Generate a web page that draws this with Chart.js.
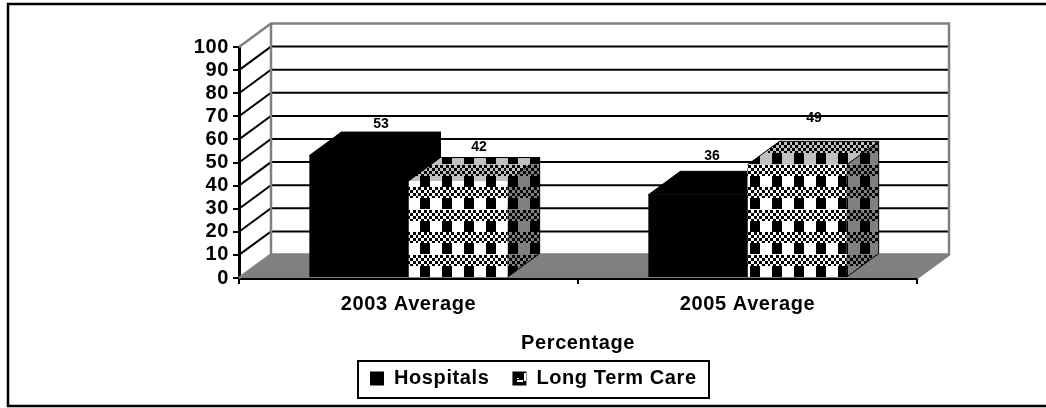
<!DOCTYPE html>
<html><head><meta charset="utf-8">
<style>html,body{margin:0;padding:0;background:#fff}canvas{display:block}</style>
<script src="https://cdn.jsdelivr.net/npm/chart.js@4"></script>
</head><body>
<canvas id="c" width="1046" height="408" style="width:1046px;height:408px"></canvas>
<script>
const categories = ['2003 Average', '2005 Average'];
const hospitals = [53, 36];
const longTermCare = [42, 49];
const yTicks = [0,10,20,30,40,50,60,70,80,90,100];
const axisTitle = 'Percentage';

const DX = 32, DY = 23.5;
const GREY = '#808080';
const FONT = 'Liberation Sans';

function makePattern(light){
  const w = 22, h = 45;
  const t = document.createElement('canvas'); t.width = w; t.height = h;
  const g = t.getContext('2d');
  g.fillStyle = light; g.fillRect(0,0,w,h);
  g.fillStyle = '#000';
  const bands = [[7,18,29],[30,41,52]];
  for (const [a,b,c] of bands){
    for (let y=a;y<b;y++) for (let x=0;x<w;x++){
      if ((Math.floor(x*8/22)+Math.floor((y-a)/3))%2===0) g.fillRect(x,y%h,1,1);
    }
    for (let y=b;y<c;y++) for (let x=0;x<w;x++){
      if (x>=2 && x<12) g.fillRect(x,y%h,1,1);
    }
  }
  const ctx = document.createElement('canvas').getContext('2d');
  return ctx.createPattern(t,'repeat');
}
const patFront = makePattern('#ffffff');
const patTop = makePattern('#c0c0c0');
const patSide = makePattern('#808080');

function makeLegendPattern(){
  const t = document.createElement('canvas'); t.width = 14; t.height = 14;
  const g = t.getContext('2d');
  g.fillStyle='#000'; g.fillRect(0,0,14,14);
  g.fillStyle='#fff';
  g.fillRect(11,3,2,8); g.fillRect(4,10,6,2); g.fillRect(4,8,2,1);
  const p = document.createElement('canvas').getContext('2d').createPattern(t,'repeat');
  p.setTransform(new DOMMatrix().translate(513,370));
  return p;
}
const patLegend = makeLegendPattern();

function poly(ctx, pts, fill, stroke, lw){
  ctx.beginPath();
  pts.forEach((p,i)=> i? ctx.lineTo(p[0],p[1]) : ctx.moveTo(p[0],p[1]));
  ctx.closePath();
  if (fill){ctx.fillStyle=fill;ctx.fill();}
  if (stroke){ctx.strokeStyle=stroke;ctx.lineWidth=lw||1;ctx.stroke();}
}
function box3d(ctx, bar, top, side, solid){
  const l = bar.x-bar.width/2, r = bar.x+bar.width/2, y = bar.y, b = bar.base;
  poly(ctx, [[r,b],[r+DX,b-DY],[r+DX,y-DY],[r,y]], side, solid?'#000':null);
  poly(ctx, [[l,y],[l+DX,y-DY],[r+DX,y-DY],[r,y]], top, solid?'#000':null);
  if (solid) return;
  ctx.strokeStyle='#000';ctx.lineWidth=1;
  ctx.beginPath();ctx.moveTo(l,y);ctx.lineTo(l+DX,y-DY);ctx.lineTo(r+DX,y-DY);ctx.lineTo(r+DX,b-DY);ctx.lineTo(r,b);ctx.moveTo(r+DX,y-DY);ctx.lineTo(r,y);ctx.stroke();
}
const labelNudge = [[[22,-31],[21,-34]],[[14,-39],[17,-47]]];

const scene = {
  id:'scene',
  beforeDraw(chart){
    const ctx = chart.ctx, lg = chart.legend;
    ctx.letterSpacing = '0.6px';
    lg.left = 370-lg.options.labels.padding; lg.right = lg.left+lg.width;
    const h = lg.bottom-lg.top; lg.top = 372-h/2; lg.bottom = lg.top+h;
    ctx.save();
    ctx.strokeStyle='#000';ctx.lineWidth=2.5;
    ctx.beginPath();ctx.moveTo(1046,4);ctx.lineTo(8,4);ctx.lineTo(8,406);ctx.lineTo(1046,406);ctx.stroke();
    ctx.lineWidth=2;
    ctx.strokeRect(358,361,351,37);
    ctx.restore();
  },
  beforeDatasetsDraw(chart){
    const ctx = chart.ctx, {left,right} = chart.chartArea, y = chart.scales.y;
    const y0 = y.getPixelForValue(0), yT = y.getPixelForValue(100);
    ctx.save();
    poly(ctx,[[left,y0],[left+DX,y0-DY],[right+DX,y0-DY],[right,y0]],GREY);
    ctx.strokeStyle='#000';ctx.lineWidth=1;
    ctx.beginPath();ctx.moveTo(right,y0);ctx.lineTo(right+DX,y0-DY);ctx.stroke();
    ctx.strokeStyle='#000';ctx.lineWidth=2;
    yTicks.forEach(v=>{
      if (v===0||v===100) return;
      const p = y.getPixelForValue(v);
      ctx.beginPath();ctx.moveTo(left,p);ctx.lineTo(left+DX,p-DY);ctx.lineTo(right+DX,p-DY);ctx.stroke();
    });
    ctx.strokeStyle=GREY;ctx.lineWidth=2.5;
    ctx.beginPath();ctx.moveTo(left,yT);ctx.lineTo(left+DX,yT-DY);ctx.lineTo(right+DX,yT-DY);ctx.lineTo(right+DX,y0-DY);ctx.lineTo(right,y0);ctx.stroke();
    ctx.beginPath();ctx.moveTo(left+DX,yT-DY);ctx.lineTo(left+DX,y0-DY);ctx.lineTo(left,y0);ctx.stroke();
    ctx.beginPath();ctx.moveTo(left+DX,y0-DY);ctx.lineTo(right+DX,y0-DY);ctx.stroke();
    chart.getDatasetMeta(0).data.forEach(b=>box3d(ctx,b,'#000','#000',true));
    ctx.restore();
  },
  afterDatasetsDraw(chart){
    const ctx = chart.ctx;
    ctx.save();
    chart.getDatasetMeta(1).data.forEach(b=>box3d(ctx,b,patTop,patSide,false));
    ctx.fillStyle='#000';ctx.font='bold 14px "'+FONT+'"';ctx.textAlign='center';ctx.textBaseline='middle';
    ctx.letterSpacing='0px';
    [hospitals,longTermCare].forEach((vals,d)=>{
      chart.getDatasetMeta(d).data.forEach((b,i)=>{
        const n = labelNudge[i][d];
        ctx.fillText(String(vals[i]), b.x+n[0], b.y+n[1]);
      });
    });
    ctx.restore();
  }
};

new Chart(document.getElementById('c'),{
  type:'bar',
  data:{labels:categories,datasets:[
    {label:'Hospitals',data:hospitals,backgroundColor:'#000',borderWidth:0},
    {label:'Long Term Care',data:longTermCare,backgroundColor:patFront,borderWidth:0}
  ]},
  options:{
    responsive:false,animation:false,
    layout:{padding:{left:0,top:47,right:129,bottom:0}},
    datasets:{bar:{categoryPercentage:0.585,barPercentage:1}},
    plugins:{
      tooltip:{enabled:false},
      legend:{display:true,position:'bottom',align:'start',
        labels:{boxWidth:14,boxHeight:14,padding:23,color:'#000',font:{family:FONT,size:20,weight:'bold'},
          generateLabels(chart){
            const items = Chart.defaults.plugins.legend.labels.generateLabels(chart);
            items[1].fillStyle = patLegend;
            return items;
          }}
      }
    },
    scales:{
      x:{
        grid:{display:true,offset:true,drawOnChartArea:false,color:'#000',tickColor:'#000',tickLength:6,lineWidth:2},
        border:{display:true,color:'#000',width:3},
        ticks:{color:'#000',padding:8,font:{family:FONT,size:20,weight:'bold'},maxRotation:0},
        title:{display:true,text:axisTitle,color:'#000',font:{family:FONT,size:20,weight:'bold'},padding:{top:14,bottom:0}},
        afterFit(s){ s.height = 130 - (s.chart.legend ? s.chart.legend.height : 0); }
      },
      y:{
        min:0,max:100,
        afterFit(s){ s.width = 239; },
        afterBuildTicks(s){ s.ticks = yTicks.map(v=>({value:v})); },
        grid:{display:true,drawOnChartArea:false,color:'#000',tickColor:'#000',tickLength:6,lineWidth:2},
        border:{display:true,color:'#000',width:3},
        ticks:{color:'#000',padding:4,autoSkip:false,font:{family:FONT,size:20,weight:'bold'}}
      }
    }
  },
  plugins:[scene]
});
</script>
</body></html>
